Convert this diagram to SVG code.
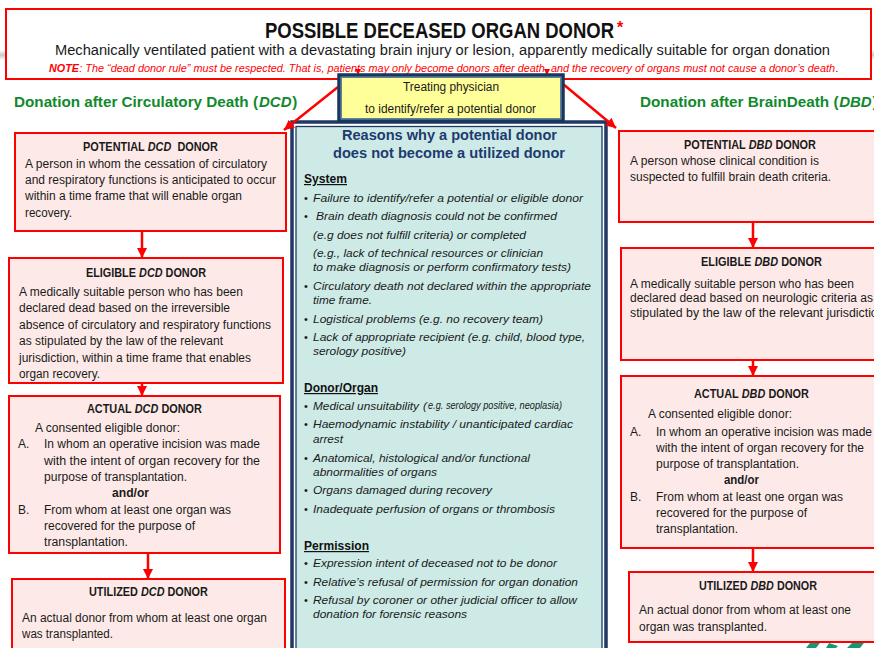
<svg xmlns="http://www.w3.org/2000/svg" width="874" height="648" viewBox="0 0 874 648">
  <defs>
    <style>
      .bg{fill:#ffffff}
      .box{fill:#fdeae8;stroke:#ff0000;stroke-width:2}
      .ttl{font-family:"Liberation Sans",Arial,sans-serif;font-weight:bold;font-size:11.3px;fill:#1a1a1a}
      .it{font-style:italic}
      .tx{font-family:"Liberation Sans",Arial,sans-serif;font-size:12px;fill:#1a1a1a}
      .txb{font-family:"Liberation Sans",Arial,sans-serif;font-size:12px;font-weight:bold;fill:#1a1a1a}
      .rs{font-family:"Liberation Sans",Arial,sans-serif;font-size:11.5px;font-style:italic;fill:#1a1a1a}
      .bul{font-family:"Liberation Sans",Arial,sans-serif;font-size:11px;fill:#1a1a1a}
      .sec{font-family:"Liberation Sans",Arial,sans-serif;font-size:12px;font-weight:bold;text-decoration:underline;fill:#111}
      .rh{font-family:"Liberation Sans",Arial,sans-serif;font-size:14px;font-weight:bold;fill:#1f3a70}
      .grn{font-family:"Liberation Sans",Arial,sans-serif;font-size:15.2px;font-weight:bold;fill:#108a2c}
      .note{font-family:"Liberation Sans",Arial,sans-serif;font-size:10.8px;font-style:italic;fill:#ff0000}
      .conn{stroke:#ff0000;stroke-width:2.5;fill:none;marker-end:url(#ah)}
    </style>
    <marker id="ah" markerUnits="userSpaceOnUse" markerWidth="12" markerHeight="12" refX="10" refY="5" orient="auto">
      <path d="M0,0 L10,5 L0,10 z" fill="#ff0000"/>
    </marker>
    <linearGradient id="band" x1="0" y1="0" x2="0" y2="1">
      <stop offset="0" stop-color="#ffffff"/>
      <stop offset="0.5" stop-color="#c8c8c8"/>
      <stop offset="1" stop-color="#ffffff"/>
    </linearGradient>
  </defs>

  <rect class="bg" x="0" y="0" width="874" height="648"/>
  <!-- faint slide divider behind the header -->
  <rect x="0" y="50" width="874" height="10" fill="url(#band)"/>

  <!-- header; the title is stretched vertically about its baseline to mimic a condensed face -->
  <g id="possible-donor">
    <rect x="6" y="9" width="865" height="70" fill="#ffffff" stroke="#ff0000" stroke-width="2"/>
    <text x="265" y="38" transform="matrix(1 0 0 1.196 0 -7.45)" font-family="'Liberation Sans',Arial,sans-serif" font-size="18.4" font-weight="bold" fill="#111" textLength="349" lengthAdjust="spacingAndGlyphs">POSSIBLE DECEASED ORGAN DONOR</text>
    <text x="617" y="33" font-family="'Liberation Sans',Arial,sans-serif" font-size="16" font-weight="bold" fill="#ff0000">*</text>
    <text x="55" y="55" font-family="'Liberation Sans',Arial,sans-serif" font-size="14" fill="#1a1a1a" textLength="775" lengthAdjust="spacingAndGlyphs">Mechanically ventilated patient with a devastating brain injury or lesion, apparently medically suitable for organ donation</text>
    <text class="note" x="49" y="72" font-weight="bold">NOTE</text>
    <text class="note" x="79.3" y="72" textLength="755.7" lengthAdjust="spacingAndGlyphs">: The “dead donor rule” must be respected. That is, patients may only become donors after death, and the recovery of organs must not cause a donor’s death</text>
    <text x="835.3" y="72" font-family="'Liberation Sans',Arial,sans-serif" font-size="10.8" fill="#111">.</text>
  </g>

  <!-- column headings -->
  <g id="heading-dcd">
    <text class="grn" x="14" y="107" textLength="244" lengthAdjust="spacingAndGlyphs">Donation after Circulatory Death (</text>
    <text class="grn it" x="259" y="107" textLength="32.5" lengthAdjust="spacingAndGlyphs">DCD</text>
    <text class="grn" x="292.2" y="107">)</text>
  </g>
  <g id="heading-dbd">
    <text class="grn" x="640" y="107" textLength="198.5" lengthAdjust="spacingAndGlyphs">Donation after BrainDeath (</text>
    <text class="grn it" x="839.2" y="107" textLength="32.5" lengthAdjust="spacingAndGlyphs">DBD</text>
    <text class="grn" x="872.4" y="107">)</text>
  </g>

  <!-- reasons panel -->
  <g id="reasons">
    <rect x="292" y="122" width="314" height="540" fill="#ffffff" stroke="#1f3864" stroke-width="3.5"/>
    <rect x="296" y="126.5" width="306" height="530" fill="#cdeae6" stroke="#1f3864" stroke-width="1.3"/>
    <text class="rh" x="342" y="140" textLength="215" lengthAdjust="spacingAndGlyphs">Reasons why a potential donor</text>
    <text class="rh" x="333" y="158" textLength="232" lengthAdjust="spacingAndGlyphs">does not become a utilized donor</text>

    <text class="sec" x="304" y="183" textLength="43" lengthAdjust="spacingAndGlyphs">System</text>
    <text class="bul" x="304" y="202">•</text>
    <text class="rs" x="313" y="202" textLength="270" lengthAdjust="spacingAndGlyphs">Failure to identify/refer a potential  or eligible donor</text>
    <text class="bul" x="304" y="220">•</text>
    <text class="rs" x="316" y="220" textLength="241" lengthAdjust="spacingAndGlyphs">Brain death diagnosis could not be confirmed</text>
    <text class="rs" x="313" y="239" textLength="213" lengthAdjust="spacingAndGlyphs">(e.g does not fulfill criteria) or completed</text>
    <text class="rs" x="313" y="257" textLength="230" lengthAdjust="spacingAndGlyphs">(e.g., lack of technical resources or clinician</text>
    <text class="rs" x="313" y="271" textLength="258" lengthAdjust="spacingAndGlyphs">to make diagnosis or perform confirmatory tests)</text>
    <text class="bul" x="304" y="290">•</text>
    <text class="rs" x="313" y="290" textLength="278" lengthAdjust="spacingAndGlyphs">Circulatory death not declared within the appropriate</text>
    <text class="rs" x="313" y="304" textLength="59" lengthAdjust="spacingAndGlyphs">time frame.</text>
    <text class="bul" x="304" y="323">•</text>
    <text class="rs" x="313" y="323" textLength="230" lengthAdjust="spacingAndGlyphs">Logistical problems (e.g. no recovery team)</text>
    <text class="bul" x="304" y="341">•</text>
    <text class="rs" x="313" y="341" textLength="272" lengthAdjust="spacingAndGlyphs">Lack of appropriate recipient (e.g. child, blood type,</text>
    <text class="rs" x="313" y="355" textLength="93" lengthAdjust="spacingAndGlyphs">serology positive)</text>

    <text class="sec" x="304" y="392" textLength="74" lengthAdjust="spacingAndGlyphs">Donor/Organ</text>
    <text class="bul" x="304" y="410">•</text>
    <text class="rs" x="313" y="410" textLength="106" lengthAdjust="spacingAndGlyphs">Medical unsuitability</text>
    <text class="rs" x="423" y="410">(</text>
    <text class="rs" x="428" y="409" font-size="8" textLength="134" lengthAdjust="spacingAndGlyphs">e.g. serology positive, neoplasia)</text>
    <text class="bul" x="304" y="428">•</text>
    <text class="rs" x="313" y="428" textLength="260" lengthAdjust="spacingAndGlyphs">Haemodynamic instability / unanticipated cardiac</text>
    <text class="rs" x="313" y="443" textLength="30" lengthAdjust="spacingAndGlyphs">arrest</text>
    <text class="bul" x="304" y="462">•</text>
    <text class="rs" x="313" y="462" textLength="217" lengthAdjust="spacingAndGlyphs">Anatomical, histological and/or functional</text>
    <text class="rs" x="313" y="476" textLength="124" lengthAdjust="spacingAndGlyphs">abnormalities of organs</text>
    <text class="bul" x="304" y="494">•</text>
    <text class="rs" x="313" y="494" textLength="179" lengthAdjust="spacingAndGlyphs">Organs damaged during recovery</text>
    <text class="bul" x="304" y="513">•</text>
    <text class="rs" x="313" y="513" textLength="242" lengthAdjust="spacingAndGlyphs">Inadequate perfusion of organs or thrombosis</text>

    <text class="sec" x="304" y="550" textLength="65" lengthAdjust="spacingAndGlyphs">Permission</text>
    <text class="bul" x="304" y="567">•</text>
    <text class="rs" x="313" y="567" textLength="244" lengthAdjust="spacingAndGlyphs">Expression intent of deceased not to be donor</text>
    <text class="bul" x="304" y="586">•</text>
    <text class="rs" x="313" y="586" textLength="265" lengthAdjust="spacingAndGlyphs">Relative’s refusal of permission for organ donation</text>
    <text class="bul" x="304" y="604">•</text>
    <text class="rs" x="313" y="604" textLength="264" lengthAdjust="spacingAndGlyphs">Refusal by coroner or other judicial officer to allow</text>
    <text class="rs" x="313" y="618" textLength="154" lengthAdjust="spacingAndGlyphs">donation for forensic reasons</text>
  </g>

  <!-- connectors -->
  <g id="connectors">
    <line class="conn" x1="338" y1="87" x2="284" y2="130"/>
    <line class="conn" x1="563" y1="84" x2="616" y2="128"/>
    <line class="conn" x1="142" y1="231" x2="142" y2="258"/>
    <line class="conn" x1="142" y1="383" x2="142" y2="396"/>
    <line class="conn" x1="148" y1="553" x2="148" y2="579"/>
    <line class="conn" x1="753" y1="222" x2="753" y2="248"/>
    <line class="conn" x1="753" y1="360" x2="753" y2="376"/>
    <line class="conn" x1="753" y1="548" x2="753" y2="572"/>
    <path d="M355,69 L361,69 L358,75 z" fill="#ff0000"/>
    <path d="M544,69 L550,69 L547,75 z" fill="#ff0000"/>
  </g>

  <!-- treating physician -->
  <g id="treating-physician">
    <rect x="339" y="75" width="224" height="46" fill="#ffff99" stroke="#17375e" stroke-width="3.5"/>
    <rect x="341.5" y="77.5" width="219" height="41" fill="none" stroke="#5a7fb0" stroke-width="1"/>
    <text x="451" y="91" font-family="'Liberation Sans',Arial,sans-serif" font-size="12" fill="#1a1a1a" text-anchor="middle" textLength="96" lengthAdjust="spacingAndGlyphs">Treating physician</text>
    <text x="365" y="113" font-family="'Liberation Sans',Arial,sans-serif" font-size="12" fill="#1a1a1a" textLength="171" lengthAdjust="spacingAndGlyphs">to identify/refer a potential donor</text>
  </g>

  <!-- DCD pathway (box titles are stretched 1.1x vertically about their baselines) -->
  <g id="potential-dcd">
    <rect class="box" x="15" y="133" width="271" height="98"/>
    <g transform="matrix(1 0 0 1.1 0 -15.1)">
      <text class="ttl" x="83" y="151" textLength="61.7" lengthAdjust="spacingAndGlyphs">POTENTIAL</text>
      <text class="ttl it" x="147.8" y="151" textLength="23.5" lengthAdjust="spacingAndGlyphs">DCD</text>
      <text class="ttl" x="177.4" y="151" textLength="40.5" lengthAdjust="spacingAndGlyphs">DONOR</text>
    </g>
    <text class="tx" x="25" y="168" textLength="242" lengthAdjust="spacingAndGlyphs">A person in whom the cessation of circulatory</text>
    <text class="tx" x="25" y="184" textLength="251" lengthAdjust="spacingAndGlyphs">and respiratory functions is anticipated to occur</text>
    <text class="tx" x="25" y="200" textLength="217" lengthAdjust="spacingAndGlyphs">within a time frame that will enable organ</text>
    <text class="tx" x="25" y="217" textLength="47" lengthAdjust="spacingAndGlyphs">recovery.</text>
  </g>
  <g id="eligible-dcd">
    <rect class="box" x="9" y="258" width="274" height="125"/>
    <g transform="matrix(1 0 0 1.1 0 -27.7)">
      <text class="ttl" x="86" y="277" textLength="50" lengthAdjust="spacingAndGlyphs">ELIGIBLE</text>
      <text class="ttl it" x="139.1" y="277" textLength="23.4" lengthAdjust="spacingAndGlyphs">DCD</text>
      <text class="ttl" x="165.6" y="277" textLength="40.4" lengthAdjust="spacingAndGlyphs">DONOR</text>
    </g>
    <text class="tx" x="19" y="296" textLength="224" lengthAdjust="spacingAndGlyphs">A medically suitable person who has been</text>
    <text class="tx" x="19" y="312" textLength="211" lengthAdjust="spacingAndGlyphs">declared dead based on the irreversible</text>
    <text class="tx" x="19" y="329" textLength="252" lengthAdjust="spacingAndGlyphs">absence of circulatory and respiratory functions</text>
    <text class="tx" x="19" y="345" textLength="204" lengthAdjust="spacingAndGlyphs">as stipulated by the law of the relevant</text>
    <text class="tx" x="19" y="362" textLength="232" lengthAdjust="spacingAndGlyphs">jurisdiction, within a time frame that enables</text>
    <text class="tx" x="19" y="378" textLength="81" lengthAdjust="spacingAndGlyphs">organ recovery.</text>
  </g>
  <g id="actual-dcd">
    <rect class="box" x="9" y="396" width="271" height="157"/>
    <g transform="matrix(1 0 0 1.1 0 -41.3)">
      <text class="ttl" x="87" y="413" textLength="44.7" lengthAdjust="spacingAndGlyphs">ACTUAL</text>
      <text class="ttl it" x="134.8" y="413" textLength="23.5" lengthAdjust="spacingAndGlyphs">DCD</text>
      <text class="ttl" x="161.4" y="413" textLength="40.5" lengthAdjust="spacingAndGlyphs">DONOR</text>
    </g>
    <text class="tx" x="35" y="432" textLength="145" lengthAdjust="spacingAndGlyphs">A consented eligible donor:</text>
    <text class="tx" x="18" y="448">A.</text>
    <text class="tx" x="44" y="448" textLength="216" lengthAdjust="spacingAndGlyphs">In whom an operative incision was made</text>
    <text class="tx" x="44" y="465" textLength="216" lengthAdjust="spacingAndGlyphs">with the intent of organ recovery for the</text>
    <text class="tx" x="44" y="481" textLength="143" lengthAdjust="spacingAndGlyphs">purpose of transplantation.</text>
    <text class="txb" x="112" y="497" textLength="37" lengthAdjust="spacingAndGlyphs">and/or</text>
    <text class="tx" x="18" y="514">B.</text>
    <text class="tx" x="44" y="514" textLength="187" lengthAdjust="spacingAndGlyphs">From whom at least one organ was</text>
    <text class="tx" x="44" y="530" textLength="151" lengthAdjust="spacingAndGlyphs">recovered for the purpose of</text>
    <text class="tx" x="44" y="546" textLength="84" lengthAdjust="spacingAndGlyphs">transplantation.</text>
  </g>
  <g id="utilized-dcd">
    <rect class="box" x="12" y="579" width="273" height="80"/>
    <g transform="matrix(1 0 0 1.1 0 -59.6)">
      <text class="ttl" x="89" y="596" textLength="48.9" lengthAdjust="spacingAndGlyphs">UTILIZED</text>
      <text class="ttl it" x="141" y="596" textLength="23.5" lengthAdjust="spacingAndGlyphs">DCD</text>
      <text class="ttl" x="167.5" y="596" textLength="40.4" lengthAdjust="spacingAndGlyphs">DONOR</text>
    </g>
    <text class="tx" x="22" y="622" textLength="245" lengthAdjust="spacingAndGlyphs">An actual donor from whom at least one organ</text>
    <text class="tx" x="22" y="638" textLength="91" lengthAdjust="spacingAndGlyphs">was transplanted.</text>
  </g>

  <!-- DBD pathway -->
  <g id="potential-dbd">
    <rect class="box" x="619" y="131" width="270" height="91"/>
    <g transform="matrix(1 0 0 1.1 0 -14.9)">
      <text class="ttl" x="684" y="149" textLength="61.7" lengthAdjust="spacingAndGlyphs">POTENTIAL</text>
      <text class="ttl it" x="748.8" y="149" textLength="23.5" lengthAdjust="spacingAndGlyphs">DBD</text>
      <text class="ttl" x="775.4" y="149" textLength="40.5" lengthAdjust="spacingAndGlyphs">DONOR</text>
    </g>
    <text class="tx" x="630" y="165" textLength="189" lengthAdjust="spacingAndGlyphs">A person whose clinical condition is</text>
    <text class="tx" x="630" y="181" textLength="201" lengthAdjust="spacingAndGlyphs">suspected to fulfill brain death criteria.</text>
  </g>
  <g id="eligible-dbd">
    <rect class="box" x="621" y="248" width="270" height="112"/>
    <g transform="matrix(1 0 0 1.1 0 -26.6)">
      <text class="ttl" x="701" y="266" textLength="50.4" lengthAdjust="spacingAndGlyphs">ELIGIBLE</text>
      <text class="ttl it" x="754.5" y="266" textLength="23.6" lengthAdjust="spacingAndGlyphs">DBD</text>
      <text class="ttl" x="781.2" y="266" textLength="40.7" lengthAdjust="spacingAndGlyphs">DONOR</text>
    </g>
    <text class="tx" x="630" y="288" textLength="224" lengthAdjust="spacingAndGlyphs">A medically suitable person who has been</text>
    <text class="tx" x="630" y="302" textLength="243" lengthAdjust="spacingAndGlyphs">declared dead based on neurologic criteria as</text>
    <text class="tx" x="630" y="317" textLength="258" lengthAdjust="spacingAndGlyphs">stipulated by the law of the relevant jurisdiction.</text>
  </g>
  <g id="actual-dbd">
    <rect class="box" x="621" y="376" width="270" height="172"/>
    <g transform="matrix(1 0 0 1.1 0 -39.8)">
      <text class="ttl" x="694" y="398" textLength="44.7" lengthAdjust="spacingAndGlyphs">ACTUAL</text>
      <text class="ttl it" x="741.8" y="398" textLength="23.5" lengthAdjust="spacingAndGlyphs">DBD</text>
      <text class="ttl" x="768.4" y="398" textLength="40.5" lengthAdjust="spacingAndGlyphs">DONOR</text>
    </g>
    <text class="tx" x="648" y="418" textLength="144" lengthAdjust="spacingAndGlyphs">A consented eligible donor:</text>
    <text class="tx" x="630" y="436">A.</text>
    <text class="tx" x="656" y="436" textLength="216" lengthAdjust="spacingAndGlyphs">In whom an operative incision was made</text>
    <text class="tx" x="656" y="452" textLength="208" lengthAdjust="spacingAndGlyphs">with the intent of organ recovery for the</text>
    <text class="tx" x="656" y="468" textLength="143" lengthAdjust="spacingAndGlyphs">purpose of transplantation.</text>
    <text class="txb" x="724" y="484" textLength="35" lengthAdjust="spacingAndGlyphs">and/or</text>
    <text class="tx" x="630" y="501">B.</text>
    <text class="tx" x="656" y="501" textLength="187" lengthAdjust="spacingAndGlyphs">From whom at least one organ was</text>
    <text class="tx" x="656" y="517" textLength="151" lengthAdjust="spacingAndGlyphs">recovered for the purpose of</text>
    <text class="tx" x="656" y="533" textLength="82" lengthAdjust="spacingAndGlyphs">transplantation.</text>
  </g>
  <g id="utilized-dbd">
    <rect class="box" x="629" y="572" width="260" height="70"/>
    <g transform="matrix(1 0 0 1.1 0 -59)">
      <text class="ttl" x="699" y="590" textLength="48.5" lengthAdjust="spacingAndGlyphs">UTILIZED</text>
      <text class="ttl it" x="750.5" y="590" textLength="23.3" lengthAdjust="spacingAndGlyphs">DBD</text>
      <text class="ttl" x="776.9" y="590" textLength="40.1" lengthAdjust="spacingAndGlyphs">DONOR</text>
    </g>
    <text class="tx" x="639" y="614" textLength="212" lengthAdjust="spacingAndGlyphs">An actual donor from whom at least one</text>
    <text class="tx" x="639" y="631" textLength="128" lengthAdjust="spacingAndGlyphs">organ was transplanted.</text>
  </g>

  <!-- corner emblem, cut by the page edge -->
  <g id="emblem" fill="#17977a">
    <path d="M806,648 L810,643 L820,643 L816,648 z"/>
    <path d="M826,648 L829,643 L838,646 L836,648 z"/>
    <path d="M847,648 L852,643 L864,643 L860,648 z"/>
  </g>
</svg>
